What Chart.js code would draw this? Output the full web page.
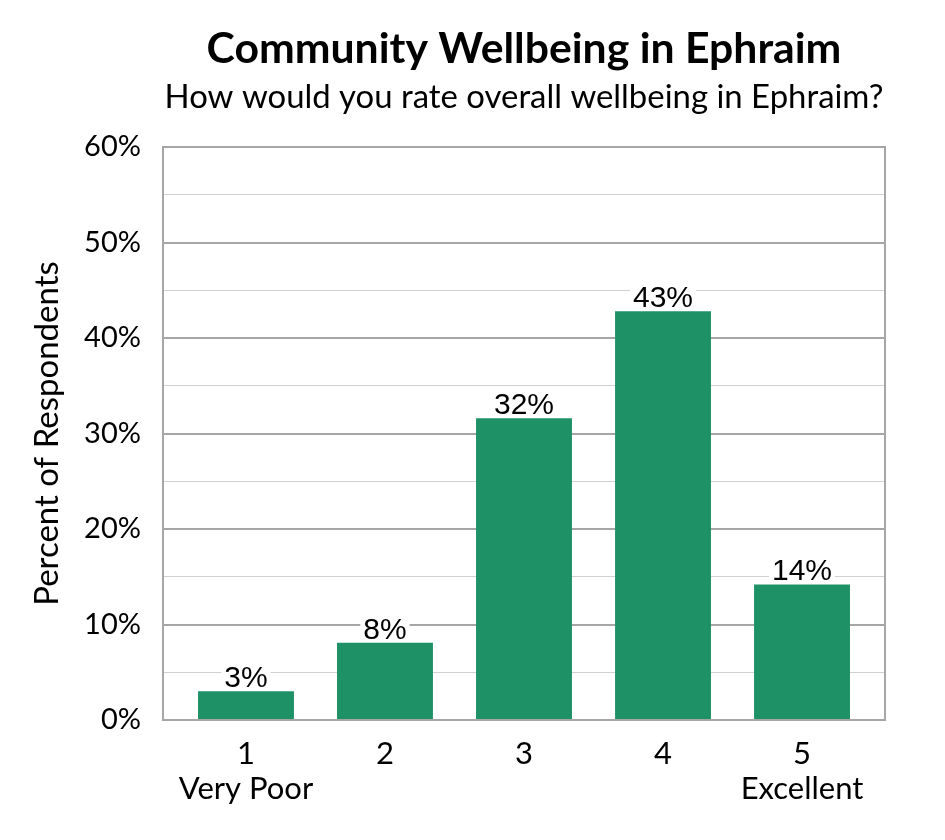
<!DOCTYPE html>
<html>
<head>
<meta charset="utf-8">
<script src="https://cdn.jsdelivr.net/npm/chart.js@4"></script>
<style>
html,body{margin:0;padding:0;background:#fff;}
canvas{display:block;}
</style>
</head>
<body>
<canvas id="c" width="945" height="840"></canvas>
<script>
const titleText = "Community Wellbeing in Ephraim";
const subtitleText = "How would you rate overall wellbeing in Ephraim?";
const categories = [["1","Very Poor"],["2"],["3"],["4"],["5","Excellent"]];
const values = [3, 8.1, 31.6, 42.8, 14.2];
const yAxisTitle = "Percent of Respondents";
const barColor = "#1f9166";

const FONT = "Lato, 'Noto Sans', sans-serif";
const LABEL_FONT = "'Liberation Sans', Arial, sans-serif";

function fitFont(ctx, text, weight, targetW, base) {
  ctx.font = weight + " " + base + "px " + FONT;
  const w = ctx.measureText(text).width;
  return base * targetW / w;
}

const decor = {
  id: 'decor',
  afterDatasetsDraw(chart) {
    const ctx = chart.ctx;
    const meta = chart.getDatasetMeta(0);
    ctx.save();
    ctx.font = "30px " + LABEL_FONT;
    ctx.textAlign = "center";
    ctx.textBaseline = "alphabetic";
    meta.data.forEach((bar, i) => {
      const txt = Math.round(values[i]) + "%";
      const w = ctx.measureText(txt).width;
      const baseY = bar.y - 4;
      ctx.fillStyle = "#fff";
      ctx.fillRect(bar.x - w/2 - 3, baseY - 24, w + 6, 26);
      ctx.fillStyle = "#000";
      ctx.fillText(txt, bar.x, baseY);
    });
    ctx.restore();
  },
  afterDraw(chart) {
    const ctx = chart.ctx;
    const a = chart.chartArea;
    ctx.save();
    ctx.strokeStyle = "#a6a6a6";
    ctx.lineWidth = 2;
    ctx.strokeRect(a.left, a.top, a.right - a.left, a.bottom - a.top);
    const cx = (a.left + a.right) / 2;
    ctx.fillStyle = "#000";
    ctx.textAlign = "center";
    ctx.textBaseline = "alphabetic";
    let s = fitFont(ctx, titleText, "bold", 635, 40);
    ctx.font = "bold " + s + "px " + FONT;
    ctx.fillText(titleText, cx, 63);
    s = fitFont(ctx, subtitleText, "normal", 719, 30);
    ctx.font = s + "px " + FONT;
    ctx.fillText(subtitleText, cx, 108);
    ctx.restore();
  }
};

new Chart(document.getElementById('c'), {
  type: 'bar',
  data: {
    datasets: [{
      data: values.map((v, i) => ({ x: i, y: v })),
      backgroundColor: barColor,
      borderWidth: 0,
      barPercentage: 0.69,
      categoryPercentage: 1.0
    }]
  },
  options: {
    responsive: false,
    animation: false,
    devicePixelRatio: 1,
    layout: { padding: { top: 147, right: 60, left: 0, bottom: 0 } },
    plugins: { legend: { display: false }, tooltip: { enabled: false }, title: { display: false } },
    scales: {
      x: {
        type: 'linear',
        offset: false,
        min: -0.597,
        max: 4.597,
        grid: { display: false, drawTicks: false, offset: false },
        border: { display: false },
        ticks: {
          stepSize: 1,
          includeBounds: false,
          color: "#000",
          font: { family: FONT, size: 31, lineHeight: 1.15 },
          padding: 16,
          maxRotation: 0,
          autoSkip: false,
          callback: (v) => Number.isInteger(v) && categories[v] ? categories[v] : ""
        },
        afterFit(scale) { scale.height = 120; }
      },
      y: {
        min: 0,
        max: 60,
        grid: {
          drawTicks: false,
          color: (c) => (c.tick && c.tick.value % 10 === 0) ? "#a6a6a6" : "#d0d0d0",
          lineWidth: (c) => (c.tick && c.tick.value % 10 === 0) ? 2 : 1
        },
        border: { display: false },
        ticks: {
          stepSize: 5,
          color: "#000",
          font: { family: FONT, size: 29 },
          padding: 22,
          callback: (v) => (v % 10 === 0) ? v + "%" : ""
        },
        title: {
          display: true,
          text: yAxisTitle,
          color: "#000",
          font: { family: FONT, size: 33 },
          padding: { top: 28, bottom: 0 }
        },
        afterFit(scale) { scale.width = 163; }
      }
    }
  },
  plugins: [decor]
});
</script>
</body>
</html>
